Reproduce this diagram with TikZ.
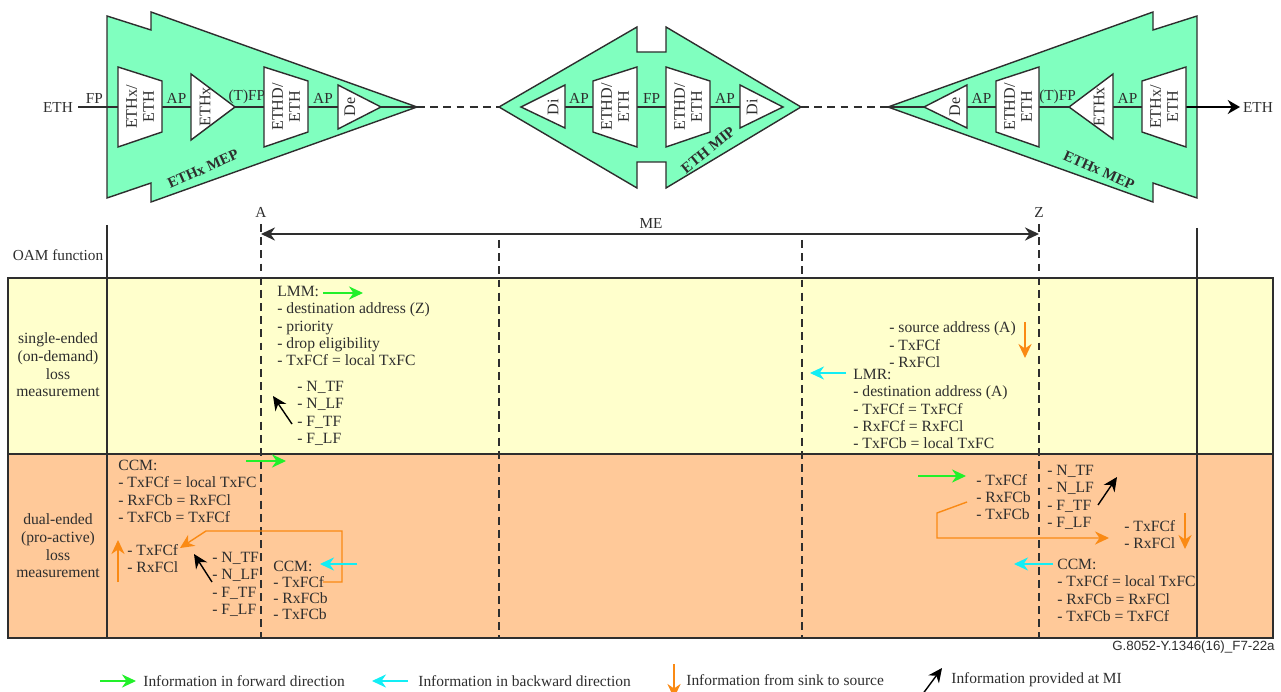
\documentclass[tikz,border=0pt]{standalone}
\usepackage{fontspec}
\setmainfont{Liberation Serif}
\setsansfont{Liberation Sans}
\usetikzlibrary{arrows.meta}
\definecolor{ink}{HTML}{2E2E2E}
\definecolor{mepgreen}{HTML}{80FFBF}
\definecolor{rowyellow}{HTML}{FFFFCC}
\definecolor{roworange}{HTML}{FFC999}
\definecolor{fwdgreen}{HTML}{22F02A}
\definecolor{bwdcyan}{HTML}{12EEF5}
\definecolor{sinkorange}{HTML}{FA8A14}
\begin{document}
\begin{tikzpicture}[
    x=0.02cm, y=-0.02cm,
    >={Stealth[length=8pt,width=7.5pt]},
    color=ink,
    txt/.style={font=\fontsize{8.9}{9.9}\selectfont, text=ink, inner sep=0pt, align=left, anchor=north west, yshift=-1pt},
    ccmtxt/.style={txt, font=\fontsize{8.9}{9.1}\selectfont},
    rowtxt/.style={font=\fontsize{8.9}{10}\selectfont, text=ink, inner sep=0pt, align=center},
    lbl/.style={font=\fontsize{8.7}{9.5}\selectfont, text=ink, inner sep=1.5pt},
    legtxt/.style={font=\fontsize{8.8}{9.5}\selectfont, text=ink, inner sep=0pt, anchor=west},
    blocktxt/.style={font=\fontsize{9.2}{9.7}\selectfont, text=ink, inner sep=0pt, align=center, rotate=90},
    meplbl/.style={font=\fontsize{8.5}{9.5}\selectfont\bfseries, text=ink, inner sep=0pt},
    body/.style={draw=ink, fill=mepgreen, line width=0.8pt},
    blockbox/.style={draw=ink, fill=white, line width=0.8pt},
    conn/.style={draw=ink, line width=0.8pt},
    fwd/.style={->, fwdgreen, line width=0.7pt},
    bwd/.style={->, bwdcyan, line width=0.7pt},
    sink/.style={->, sinkorange, line width=0.8pt},
    mi/.style={->, black, line width=0.8pt},
]
\useasboundingbox (0,0) rectangle (1281,692);
\clip (0,0) rectangle (1281,692);

% table rows
\fill[rowyellow] (8,278) rectangle (1273,454);
\fill[roworange] (8,454) rectangle (1273,638);
\draw[line width=0.8pt] (8,278) rectangle (1273,638);
\draw[line width=0.8pt] (8,454) -- (1273,454);

% verticals
\draw[line width=0.8pt] (107,225) -- (107,638);
\draw[line width=0.8pt] (1197,228) -- (1197,638);
\foreach \x/\y in {261/224, 1039/224, 499/240, 802/240}
  \draw[line width=0.8pt, dash pattern=on 4.5pt off 3pt] (\x,\y) -- (\x,638);

% left MEP
\draw[body] (107,16) -- (151,30) -- (151,12) -- (417,107) -- (151,202) -- (151,183) -- (107,198) -- cycle;
\coordinate (ethL) at (78,107);
\coordinate (lmepA) at (118,107); \coordinate (lmepB) at (162,107);
\coordinate (lmepC) at (191,107); \coordinate (lmepD) at (235,107);
\coordinate (lmepE) at (264,107); \coordinate (lmepF) at (308,107);
\coordinate (lmepG) at (338,107); \coordinate (lmepH) at (381,107);
\coordinate (lmepTip) at (417,107);
\draw[conn] (ethL) -- node[lbl, above, xshift=-2pt] (fpL) {FP} (lmepA);
\draw[conn] (lmepB) -- node[lbl, above] (apLa) {AP} (lmepC);
\draw[conn] (lmepD) -- node[lbl, above, xshift=-1.5pt] (tfpL) {(T)FP} (lmepE);
\draw[conn] (lmepF) -- node[lbl, above] (apLb) {AP} (lmepG);
\draw[conn] (lmepH) -- (lmepTip);
\draw[blockbox] (118,67) -- (162,81) -- (162,132) -- (118,147) -- cycle;
\draw[blockbox] (191,74) -- (235,107) -- (191,140) -- cycle;
\draw[blockbox] (264,67) -- (308,81) -- (308,132) -- (264,147) -- cycle;
\draw[blockbox] (338,85) -- (381,107) -- (338,129) -- cycle;
\node[blocktxt] (ethxaL) at (140,107) {ETHx/\\ ETH};
\node[blocktxt] (ethxL) at (205,107) {ETHx};
\node[blocktxt] (ethdL) at (286,107) {ETHD/\\ ETH};
\node[blocktxt] (deL) at (350,107) {De};
\node[lbl] (ethinL) at (58,107) {ETH};
\node[meplbl, rotate=24] (mepL) at (203,169) {ETHx MEP};

% MIP
\draw[body] (499,107) -- (637,27) -- (637,52) -- (666,52) -- (666,27) -- (801,107) -- (666,188) -- (666,162) -- (637,162) -- (637,188) -- cycle;
\coordinate (mipA) at (565,107); \coordinate (mipB) at (593,107);
\coordinate (mipC) at (637,107); \coordinate (mipD) at (666,107);
\coordinate (mipE) at (710,107); \coordinate (mipF) at (740,107);
\coordinate (mipTipL) at (499,107); \coordinate (mipTipR) at (801,107);
\draw[conn] (mipA) -- node[lbl, above] (apMa) {AP} (mipB);
\draw[conn] (mipC) -- node[lbl, above] (fpM) {FP} (mipD);
\draw[conn] (mipE) -- node[lbl, above] (apMb) {AP} (mipF);
\draw[blockbox] (521,107) -- (565,85) -- (565,128) -- cycle;
\draw[blockbox] (593,81) -- (637,67) -- (637,147) -- (593,132) -- cycle;
\draw[blockbox] (666,67) -- (710,81) -- (710,132) -- (666,147) -- cycle;
\draw[blockbox] (740,85) -- (783,107) -- (740,128) -- cycle;
\node[blocktxt] (diMa) at (553,107) {Di};
\node[blocktxt] (ethdMa) at (615,107) {ETHD/\\ ETH};
\node[blocktxt] (ethdMb) at (688,107) {ETHD/\\ ETH};
\node[blocktxt] (diMb) at (752,107) {Di};
\node[meplbl, rotate=39] (mip) at (708,150) {ETH MIP};

% right MEP
\draw[body] (888,107) -- (1153,12) -- (1153,30) -- (1197,16) -- (1197,198) -- (1153,183) -- (1153,202) -- cycle;
\coordinate (rmepTip) at (888,107);
\coordinate (rmepA) at (924,107); \coordinate (rmepB) at (967,107);
\coordinate (rmepC) at (996,107); \coordinate (rmepD) at (1039,107);
\coordinate (rmepE) at (1069,107); \coordinate (rmepF) at (1113,107);
\coordinate (rmepG) at (1142,107); \coordinate (rmepH) at (1186,107);
\coordinate (ethR) at (1240,107);
\draw[conn] (rmepTip) -- (rmepA);
\draw[conn] (rmepB) -- node[lbl, above] (apRa) {AP} (rmepC);
\draw[conn] (rmepD) -- node[lbl, above, xshift=2pt] (tfpR) {(T)FP} (rmepE);
\draw[conn] (rmepF) -- node[lbl, above] (apRb) {AP} (rmepG);
\draw[conn, -{Stealth[length=7pt,width=8pt]}, black] (rmepH) -- (ethR);
\draw[blockbox] (924,107) -- (967,85) -- (967,128) -- cycle;
\draw[blockbox] (996,81) -- (1039,67) -- (1039,147) -- (996,132) -- cycle;
\draw[blockbox] (1069,107) -- (1113,74) -- (1113,139) -- cycle;
\draw[blockbox] (1142,81) -- (1186,67) -- (1186,147) -- (1142,132) -- cycle;
\node[blocktxt] (deR) at (955,107) {De};
\node[blocktxt] (ethdR) at (1018,107) {ETHD/\\ ETH};
\node[blocktxt] (ethxR) at (1099,107) {ETHx};
\node[blocktxt] (ethxaR) at (1164,107) {ETHx/\\ ETH};
\node[lbl] (ethoutR) at (1258,107) {ETH};
\node[meplbl, rotate=-24] (mepR) at (1099,170) {ETHx MEP};

% links between the MEPs and the MIP
\draw[conn, dash pattern=on 4.5pt off 3pt] (lmepTip) -- (mipTipL);
\draw[conn, dash pattern=on 4.5pt off 3pt] (mipTipR) -- (rmepTip);

% ME span
\node[lbl] (ptA) at (261,212) {A};
\node[lbl] (ptZ) at (1039,212) {Z};
\coordinate (meL) at (261,234); \coordinate (meR) at (1039,234);
\draw[<->, line width=0.9pt] (meL) -- (meR);
\node[lbl] (me) at (651,223) {ME};
\node[lbl] (oam) at (58,255) {OAM function};

% row titles
\node[rowtxt] (single) at (58,365) {single-ended\\ (on-demand)\\ loss\\ measurement};
\node[rowtxt] (dual) at (58,546) {dual-ended\\ (pro-active)\\ loss\\ measurement};

% single-ended texts
\node[txt] (lmm) at (277,284) {LMM:\\ - destination address (Z)\\ - priority\\ - drop eligibility\\ - TxFCf = local TxFC};
\node[txt] (lmmN) at (297,379) {- N\_TF\\ - N\_LF\\ - F\_TF\\ - F\_LF};
\node[txt] (srcR) at (889,320) {- source address (A)\\ - TxFCf\\ - RxFCl};
\node[txt] (lmr) at (853,367) {LMR:\\ - destination address (A)\\ - TxFCf = TxFCf\\ - RxFCf = RxFCl\\ - TxFCb = local TxFC};

% dual-ended texts
\node[txt] (ccmA) at (118,458) {CCM:\\ - TxFCf = local TxFC\\ - RxFCb = RxFCl\\ - TxFCb = TxFCf};
\node[txt] (ccmAf) at (127,542) {- TxFCf\\ - RxFCl};
\node[txt] (ccmAn) at (212,550) {- N\_TF\\ - N\_LF\\ - F\_TF\\ - F\_LF};
\node[ccmtxt] (ccmB) at (273,559) {CCM:\\ - TxFCf\\ - RxFCb\\ - TxFCb};
\node[txt] (ccmZr) at (976,472) {- TxFCf\\ - RxFCb\\ - TxFCb};
\node[txt] (ccmZn) at (1047,463) {- N\_TF\\ - N\_LF\\ - F\_TF\\ - F\_LF};
\node[txt] (ccmZf) at (1124,518) {- TxFCf\\ - RxFCl};
\node[txt] (ccmZ) at (1057,557) {CCM:\\ - TxFCf = local TxFC\\ - RxFCb = RxFCl\\ - TxFCb = TxFCf};

% arrows, single-ended
\coordinate (a1) at (323,293); \coordinate (a2) at (363,293);
\draw[fwd] (a1) -- (a2);
\coordinate (a3) at (292,424); \coordinate (a4) at (273,396);
\draw[mi] (a3) -- (a4);
\coordinate (a5) at (1025,322); \coordinate (a6) at (1025,358);
\draw[sink] (a5) -- (a6);
\coordinate (a7) at (846,373); \coordinate (a8) at (810,373);
\draw[bwd] (a7) -- (a8);

% arrows, dual-ended
\coordinate (b1) at (246,461); \coordinate (b2) at (286,461);
\draw[fwd] (b1) -- (b2);
\coordinate (b3) at (118,582); \coordinate (b4) at (118,540);
\draw[sink] (b3) -- (b4);
\coordinate (b5) at (323,582); \coordinate (b6) at (180,548);
\draw[sink] (b5) -- (342,582) -- (342,531) -- (206,531) -- (b6);
\coordinate (b7) at (212,582); \coordinate (b8) at (194,554);
\draw[mi] (b7) -- (b8);
\coordinate (b9) at (357,564); \coordinate (b10) at (320,564);
\draw[bwd] (b9) -- (b10);
\coordinate (c1) at (918,476); \coordinate (c2) at (966,476);
\draw[fwd] (c1) -- (c2);
\coordinate (c3) at (967,502); \coordinate (c4) at (1109,538);
\draw[sink] (c3) -- (937,513) -- (937,538) -- (c4);
\coordinate (c5) at (1098,505); \coordinate (c6) at (1117,477);
\draw[mi] (c5) -- (c6);
\coordinate (c7) at (1185,513); \coordinate (c8) at (1185,549);
\draw[sink] (c7) -- (c8);
\coordinate (c9) at (1053,564); \coordinate (c10) at (1014,564);
\draw[bwd] (c9) -- (c10);

% figure tag
\node[font=\sffamily\fontsize{7.6}{9}\selectfont, text=ink, inner sep=0pt, anchor=east] (tag) at (1275,647) {G.8052-Y.1346(16)\_F7-22a};

% legend
\coordinate (k1) at (100,681); \coordinate (k2) at (136,681);
\draw[fwd] (k1) -- (k2);
\node[legtxt] (kfwd) at (143,681) {Information in forward direction};
\coordinate (k3) at (408,681); \coordinate (k4) at (372,681);
\draw[bwd] (k3) -- (k4);
\node[legtxt] (kbwd) at (418,681) {Information in backward direction};
\coordinate (k5) at (674,664); \coordinate (k6) at (674,698);
\draw[sink] (k5) -- (k6);
\node[legtxt] (ksink) at (686,680) {Information from sink to source};
\coordinate (k7) at (922,695); \coordinate (k8) at (942,668);
\draw[mi] (k7) -- (k8);
\node[legtxt] (kmi) at (951,680) {Information provided at MI};
\end{tikzpicture}
\end{document}
